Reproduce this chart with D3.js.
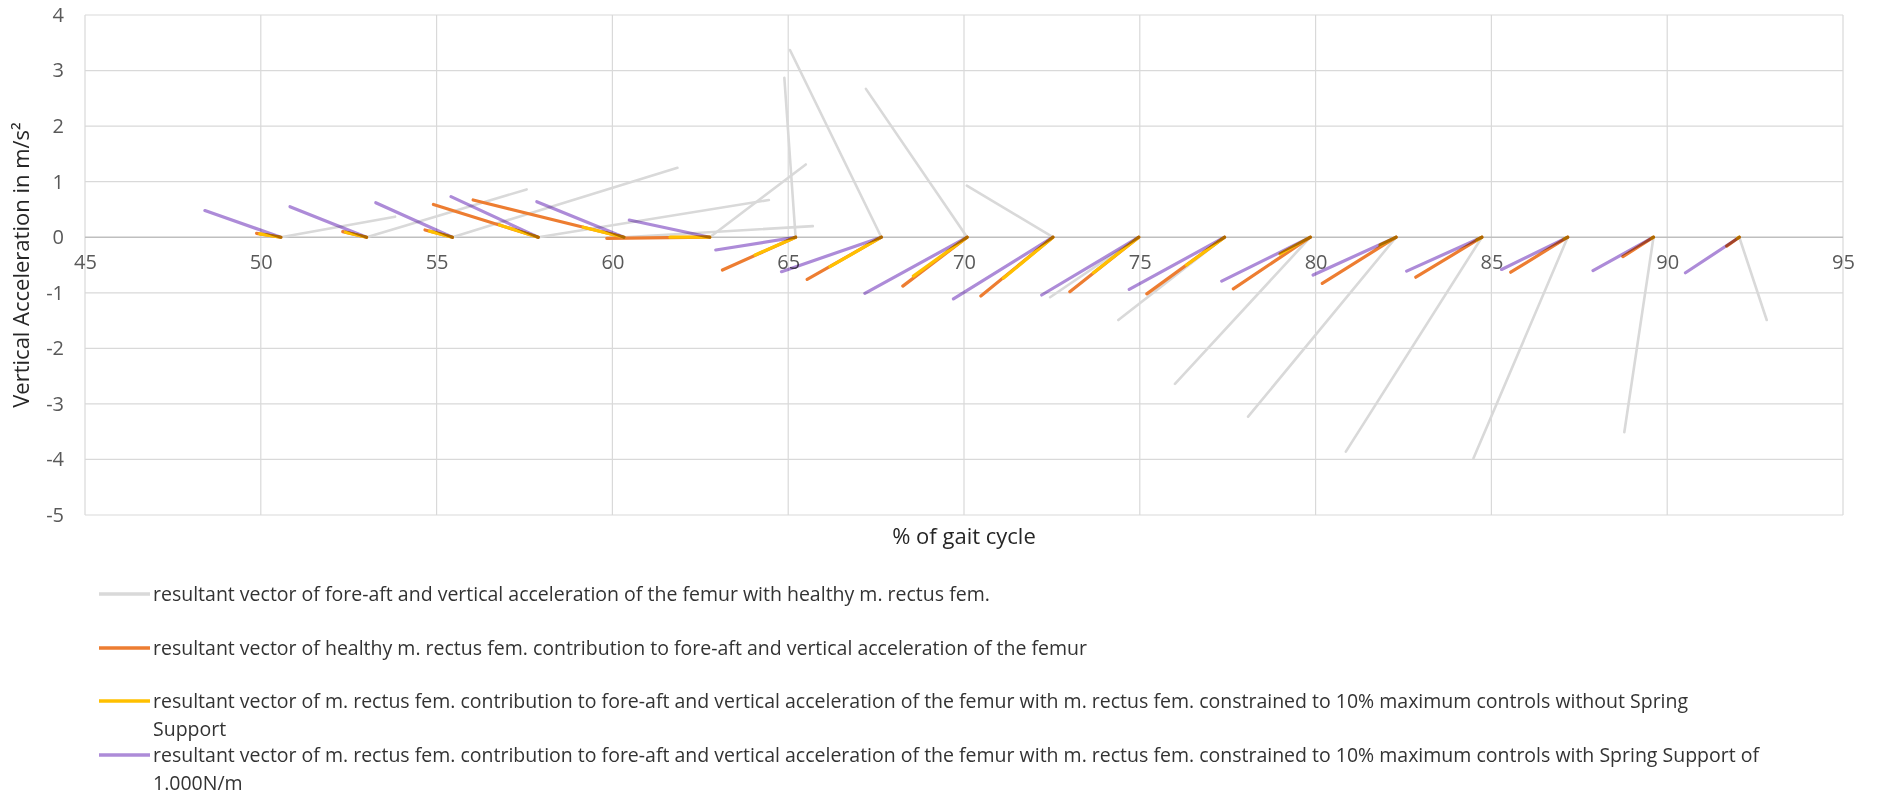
<!DOCTYPE html>
<html>
<head>
<meta charset="utf-8">
<script src="https://cdn.jsdelivr.net/npm/d3@7"></script>
<style>
  html, body { margin: 0; padding: 0; background: #ffffff; }
  svg { display: block; font-family: "Open Sans", "Noto Sans", sans-serif; }
</style>
</head>
<body>
<svg id="chart" width="1877" height="795"></svg>
<script>
// Origins of the vectors on the gait-cycle axis (% of gait cycle)
const gaitPercent = [50.57, 53.01, 55.45, 57.89, 60.33, 62.77, 65.21, 67.65, 70.09,
                     72.53, 74.97, 77.41, 79.85, 82.29, 84.73, 87.17, 89.61, 92.05];

// Femur, healthy m. rectus fem.: fore-aft component (in gait-axis units) and vertical acceleration
const femurForeAft  = [3.25, 4.55, 6.40, 6.56, 5.37, 2.73, -0.32, -2.60, -2.88,
                       -2.45, -2.52, -3.02, -3.85, -4.21, -3.87, -2.68, -0.83, 0.78];
const femurVertical = [0.37, 0.86, 1.25, 0.67, 0.20, 1.31, 2.87, 3.37, 2.67,
                       0.93, -1.08, -1.49, -2.64, -3.23, -3.86, -3.98, -3.51, -1.49];

// Healthy m. rectus fem. contribution
const healthyForeAft  = [-0.69, -0.68, -0.78, -2.98, -4.29, -2.93, -2.08, -2.11, -1.83,
                         -2.05, -1.96, -2.21, -2.19, -2.10, -1.88, -1.62, -0.87, -0.36];
const healthyVertical = [0.07, 0.10, 0.13, 0.59, 0.67, -0.02, -0.59, -0.76, -0.88,
                         -1.06, -0.98, -1.02, -0.93, -0.83, -0.72, -0.63, -0.35, -0.16];

// m. rectus fem. constrained to 10% maximum controls, without spring support
const noSpringForeAft  = [-0.60, -0.60, -0.65, -1.10, -1.16, -1.13, -1.15, -1.46, -1.53,
                          -1.41, -1.29, -1.08, -0.86, -0.46, -0.15, -0.10, -0.05, -0.05];
const noSpringVertical = [0.06, 0.09, 0.11, 0.22, 0.18, 0.00, -0.32, -0.53, -0.70,
                          -0.74, -0.64, -0.50, -0.30, -0.14, -0.05, -0.03, -0.02, -0.02];

// m. rectus fem. constrained to 10% maximum controls, with spring support of 1.000 N/m
const springForeAft  = [-2.16, -2.18, -2.18, -2.48, -2.48, -2.29, -2.27, -2.84, -2.91,
                        -2.83, -2.76, -2.71, -2.52, -2.36, -2.14, -1.88, -1.72, -1.53];
const springVertical = [0.48, 0.55, 0.62, 0.73, 0.64, 0.31, -0.23, -0.62, -1.01,
                        -1.11, -1.04, -0.94, -0.79, -0.68, -0.61, -0.58, -0.60, -0.64];

const xTicks = [45, 50, 55, 60, 65, 70, 75, 80, 85, 90, 95];
const yTicks = [4, 3, 2, 1, 0, -1, -2, -3, -4, -5];

const xTitle = "% of gait cycle";
const yTitle = "Vertical Acceleration in m/s²";

const seriesNames = [
  ["resultant vector of fore-aft and vertical acceleration of the femur with healthy m. rectus fem."],
  ["resultant vector of healthy m. rectus fem. contribution to fore-aft and vertical acceleration of the femur"],
  ["resultant vector of m. rectus fem. contribution to fore-aft and vertical acceleration of the femur with m. rectus fem. constrained to 10% maximum controls without Spring",
   "Support"],
  ["resultant vector of m. rectus fem. contribution to fore-aft and vertical acceleration of the femur with m. rectus fem. constrained to 10% maximum controls with Spring Support of",
   "1.000N/m"]
];
const seriesColors = ["#d9d9d9", "#ed7d31", "#ffc000", "#ad8bd8"];

const series = [
  { fa: femurForeAft,    v: femurVertical,    color: seriesColors[0], width: 2.6, blend: "normal" },
  { fa: healthyForeAft,  v: healthyVertical,  color: seriesColors[1], width: 3.2, blend: "normal" },
  { fa: noSpringForeAft, v: noSpringVertical, color: seriesColors[2], width: 3.2, blend: "normal" },
  { fa: springForeAft,   v: springVertical,   color: seriesColors[3], width: 3.2, blend: "multiply" }
];

// Layout
const plot = { left: 85, right: 1843, top: 15, bottom: 515 };
const svg = d3.select("#chart");

const x = d3.scaleLinear().domain([45, 95]).range([plot.left, plot.right]);
const y = d3.scaleLinear().domain([-5, 4]).range([plot.bottom, plot.top]);
const plain = d => String(d);

// Gridlines
const grid = svg.append("g").attr("class", "grid");
grid.selectAll("line.gx").data(xTicks).join("line")
  .attr("x1", d => x(d)).attr("x2", d => x(d))
  .attr("y1", plot.top).attr("y2", plot.bottom)
  .attr("stroke", "#d9d9d9").attr("stroke-width", 1.2);
grid.selectAll("line.gy").data(yTicks).join("line")
  .attr("x1", plot.left).attr("x2", plot.right)
  .attr("y1", d => y(d)).attr("y2", d => y(d))
  .attr("stroke", d => d === 0 ? "#bfbfbf" : "#d9d9d9")
  .attr("stroke-width", d => d === 0 ? 1.5 : 1.2);

// Axis tick labels
const xAxis = svg.append("g")
  .attr("transform", `translate(0,${y(0)})`)
  .call(d3.axisBottom(x).tickValues(xTicks).tickSize(0).tickPadding(18).tickFormat(plain));
xAxis.select(".domain").remove();
xAxis.selectAll("text").attr("font-size", 20).attr("fill", "#595959")
  .attr("font-family", "'Open Sans', sans-serif");

const yAxis = svg.append("g")
  .attr("transform", `translate(${plot.left},0)`)
  .call(d3.axisLeft(y).tickValues(yTicks).tickSize(0).tickPadding(21).tickFormat(plain));
yAxis.select(".domain").remove();
yAxis.selectAll("text").attr("font-size", 20).attr("fill", "#595959")
  .attr("font-family", "'Open Sans', sans-serif");

// Axis titles
svg.append("text")
  .attr("x", (plot.left + plot.right) / 2).attr("y", 544)
  .attr("text-anchor", "middle").attr("font-size", 22).attr("fill", "#262626")
  .text(xTitle);
svg.append("text")
  .attr("transform", `translate(29,${265}) rotate(-90)`)
  .attr("text-anchor", "middle").attr("font-size", 22).attr("fill", "#262626")
  .text(yTitle);

// Vectors: each one runs from its origin on the gait axis to its tip
const marks = svg.append("g").attr("class", "vectors");
series.forEach(s => {
  marks.append("g")
    .style("mix-blend-mode", s.blend)
    .selectAll("line")
    .data(gaitPercent.map((g, i) => ({ g, fa: s.fa[i], v: s.v[i] })))
    .join("line")
    .attr("x1", d => x(d.g)).attr("y1", y(0))
    .attr("x2", d => x(d.g + d.fa)).attr("y2", d => y(d.v))
    .attr("stroke", s.color)
    .attr("stroke-width", s.width)
    .attr("stroke-linecap", "round");
});

// Legend
const legendRows = [594, 648, 701, 755];
const legend = svg.append("g").attr("class", "legend");
seriesNames.forEach((lines, i) => {
  const row = legend.append("g").attr("transform", `translate(0,${legendRows[i]})`);
  row.append("line")
    .attr("x1", 99).attr("x2", 150).attr("y1", 0).attr("y2", 0)
    .attr("stroke", seriesColors[i]).attr("stroke-width", 3.5);
  const t = row.append("text")
    .attr("x", 153).attr("y", 7)
    .attr("font-size", 19.5).attr("fill", "#333333");
  lines.forEach((ln, k) => {
    t.append("tspan").attr("x", 153).attr("dy", k === 0 ? 0 : 28).text(ln);
  });
});
</script>
</body>
</html>
